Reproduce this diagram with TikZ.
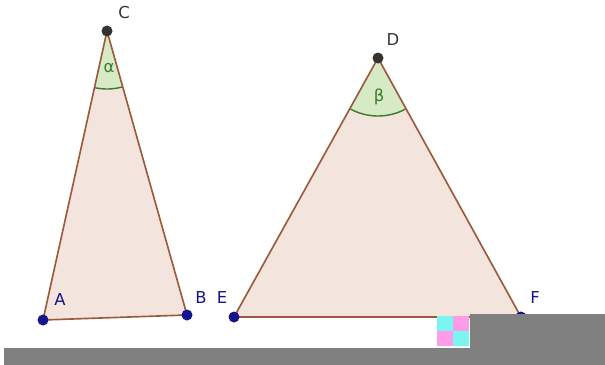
\documentclass[tikz,border=0pt]{standalone}
\usepackage{fontspec}
\setmainfont{DejaVu Sans}
\usetikzlibrary{angles}
\definecolor{triEdge}{HTML}{9C5A3C}
\definecolor{triFill}{HTML}{F3E4DD}
\definecolor{pointBlue}{HTML}{14148C}
\definecolor{pointDark}{HTML}{333333}
\definecolor{angleGreen}{HTML}{3A7A2A}
\definecolor{angleFill}{HTML}{D7EAC6}
\definecolor{barGray}{HTML}{808080}
\definecolor{glitchCyan}{HTML}{7CF4F0}
\definecolor{glitchPink}{HTML}{FF9CEA}

\begin{document}
\begin{tikzpicture}[x=0.03cm, y=-0.03cm, every node/.style={font=\fontsize{14}{16}\selectfont},
    ang/.style={draw=angleGreen, fill=angleFill, line width=1.2pt, angle radius=1.74cm}]
        \useasboundingbox (0,0) rectangle (605,365);
        \coordinate (A) at (43,320); \coordinate (B) at (187,315); \coordinate (C) at (107,31);
        \coordinate (E) at (234,317); \coordinate (F) at (521,317); \coordinate (D) at (378,58);
        \fill[triFill] (A) -- (B) -- (C) -- cycle; \fill[triFill] (E) -- (F) -- (D) -- cycle;
        \pic[ang] {angle = A--C--B};
        \pic[ang] {angle = E--D--F};
        \draw[triEdge, line width=1.4pt, line join=round] (A) -- (B) -- (C) -- cycle;
        \draw[triEdge, line width=1.4pt, line join=round] (E) -- (F) -- (D) -- cycle;
        \fill[pointBlue] (A) circle (5.5) (B) circle (5.5) (E) circle (5.5) (F) circle (5.5);
        \fill[pointDark] (C) circle (5.5) (D) circle (5.5);
        \node[text=pointBlue] (labA) at (60,300) {A};
        \node[text=pointBlue] (labB) at (201,298) {B};
        \node[text=pointBlue] (labE) at (222,298) {E};
        \node[text=pointBlue] (labF) at (535,298) {F};
        \node[text=pointDark] (labC) at (124,13) {C};
        \node[text=pointDark] (labD) at (393,40) {D};
        \node[text=angleGreen] (alpha) at (109,68) {α};
        \node[text=angleGreen] (beta) at (379,97) {β};
        % grey strips at the bottom
        \fill[barGray] (4,348) rectangle (605,365);
        \fill[barGray] (470,314) rectangle (605,348);
        \fill[glitchCyan] (437,316) rectangle (453,331); \fill[glitchPink] (453,316) rectangle (469,331);
        \fill[glitchPink] (437,331) rectangle (453,346); \fill[glitchCyan] (453,331) rectangle (469,346);
\end{tikzpicture}
\end{document}
